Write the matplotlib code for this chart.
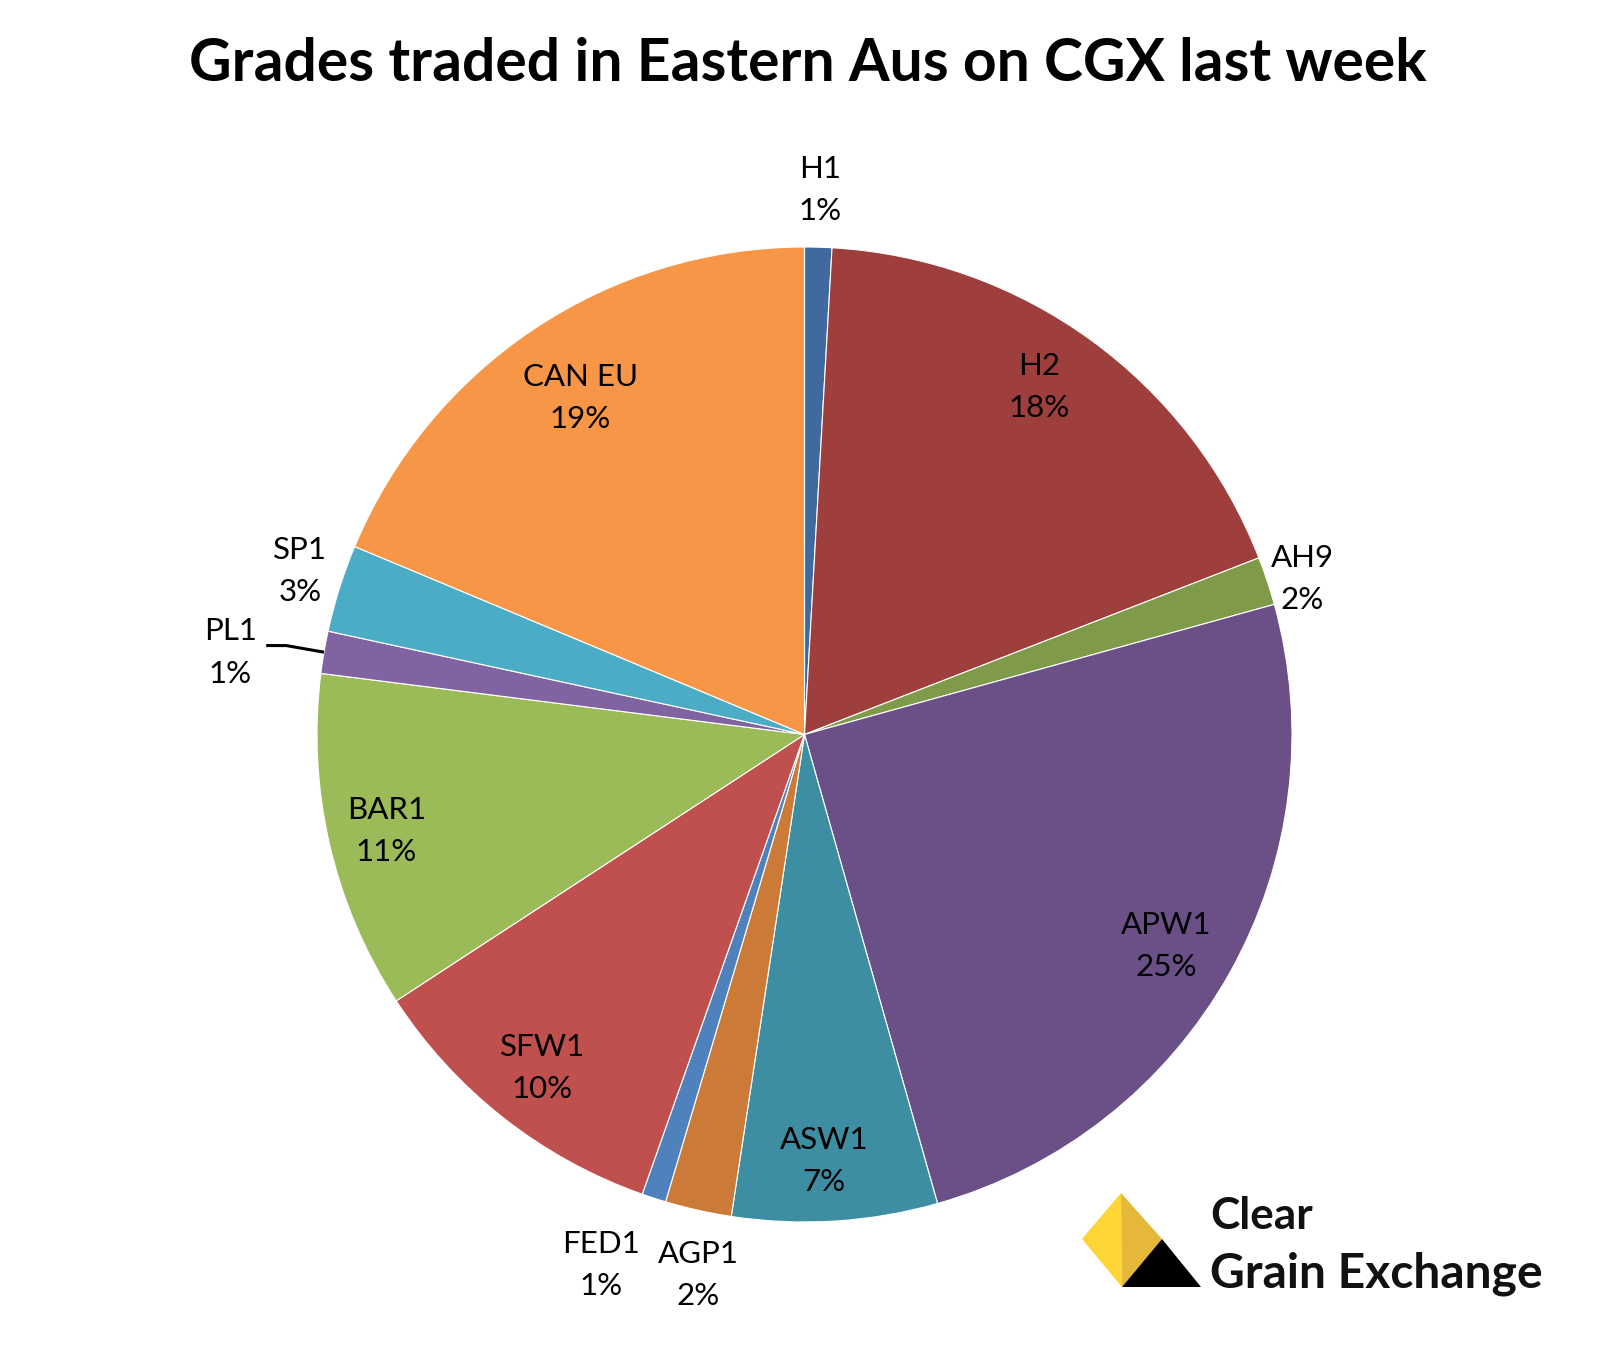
import numpy as np
import matplotlib
matplotlib.use("Agg")
import matplotlib.pyplot as plt
from matplotlib.patches import Polygon
from matplotlib import font_manager as fm

# ---------------- data ----------------
grades = ["H1", "H2", "AH9", "APW1", "ASW1", "AGP1", "FED1", "SFW1",
          "BAR1", "PL1", "SP1", "CAN EU"]
shares = [0.9, 18.2, 1.6, 24.9, 6.8, 2.2, 0.8, 10.4, 11.2, 1.4, 2.9, 18.7]
colors = ["#4069A0", "#9E3F3D", "#7F9A48", "#6A5087", "#3D8DA3", "#CB7A38",
          "#4F81BD", "#C0504D", "#9BBB59", "#8064A2", "#4BACC6", "#F79646"]
title = "Grades traded in Eastern Aus on CGX last week"

# label placement (fraction of radius, angle offset in degrees clockwise)
label_dist = [1.117, 0.86, 1.07, 0.86, 0.875, 1.13, 1.165, 0.87, 0.88, 1.19, 1.088, 0.83]
label_dang = [0.0, -2.0, 1.0, 1.0, 1.0, -1.5, 3.0, 0.0, 0.0, -1.6, 0.5, 0.0]

W, H = 1609, 1350
DPI = 100
fig = plt.figure(figsize=(W / DPI, H / DPI), dpi=DPI)
fig.patch.set_facecolor("white")
ax = fig.add_axes([0, 0, 1, 1])

def Y(y):
    return H - y

cx, cy, R = 804.5, 734.5, 487.5
total = sum(shares)
wedges, _ = ax.pie(shares, colors=colors, startangle=90, counterclock=False,
                   center=(cx, Y(cy)), radius=R,
                   wedgeprops=dict(edgecolor="white", linewidth=0.8))
ax.set_xlim(0, W)
ax.set_ylim(0, H)
ax.set_aspect("equal")
ax.axis("off")

label_font = "Lato"
fs = 22.5
px = fs * DPI / 72.0
ls = 45.0 / (0.89 * px)

for i, w in enumerate(wedges):
    mid = 0.5 * (w.theta1 + w.theta2) - label_dang[i]
    a = np.deg2rad(mid)
    r = label_dist[i] * R
    pct = int(round(shares[i] / total * 100))
    txt = f"{grades[i]}\n{pct}%"
    lx = cx + r * np.cos(a)
    ly = Y(cy) + r * np.sin(a)
    ax.text(lx, ly, txt, ha="center", va="center", fontsize=fs,
            family=label_font, linespacing=ls, color="black")
    if grades[i] == "PL1":
        a0 = np.deg2rad(0.5 * (w.theta1 + w.theta2))
        ex, ey = cx + R * np.cos(a0), Y(cy) + R * np.sin(a0)
        ax.plot([lx + 36, lx + 56, ex], [ly + 7, ly + 7, ey],
                color="black", lw=2.2, solid_capstyle="butt")

# ---------------- title (fit to reference width) ----------------
t = ax.text(808, Y(64), title, ha="center", va="center", fontsize=44,
            family="Lato", weight="bold", color="black")
fig.canvas.draw()
bb = t.get_window_extent()
t.set_fontsize(44 * 1237.0 / bb.width)

# ---------------- logo ----------------
ax.add_patch(Polygon([(1082, Y(1239)), (1121, Y(1193)), (1122, Y(1287))],
                     closed=True, facecolor="#FDD535", edgecolor="none"))
ax.add_patch(Polygon([(1121, Y(1193)), (1162, Y(1239)), (1122, Y(1287))],
                     closed=True, facecolor="#E5B73B", edgecolor="none"))
ax.add_patch(Polygon([(1162, Y(1239)), (1122, Y(1287)), (1201, Y(1287))],
                     closed=True, facecolor="black", edgecolor="none"))

names = {f.name for f in fm.fontManager.ttflist}
logo_font = "Liberation Sans Narrow" if "Liberation Sans Narrow" in names else "Lato"
t1 = ax.text(1210, Y(1229), "Clear", ha="left", va="baseline", fontsize=30,
             family=logo_font, weight="bold", color="#111111")
t2 = ax.text(1210, Y(1287), "Grain Exchange", ha="left", va="baseline", fontsize=36,
             family=logo_font, weight="bold", color="#111111")
fig.canvas.draw()
bb2 = t2.get_window_extent()
t2.set_fontsize(36 * 333.0 / bb2.width)
t1.set_fontsize(36 * 333.0 / bb2.width * 0.92)

fig.savefig("out.png", dpi=DPI, facecolor="white")
